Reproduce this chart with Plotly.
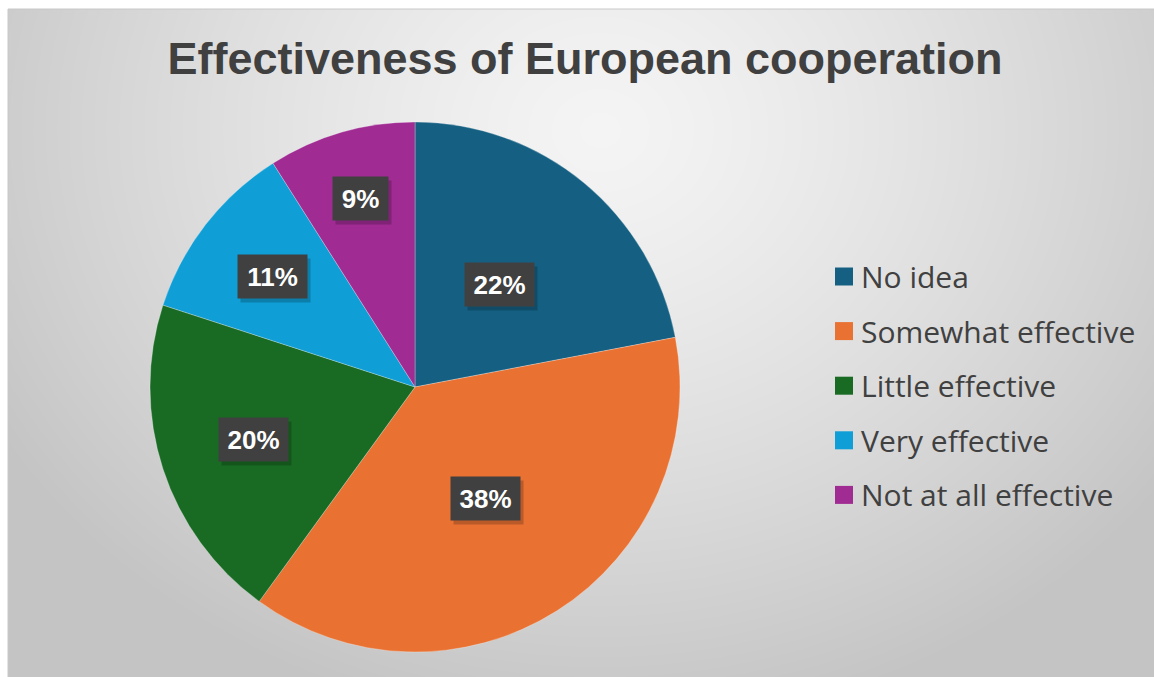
import numpy as np
import plotly.graph_objects as go

# ---------------- data ----------------
labels = ["No idea", "Somewhat effective", "Little effective", "Very effective", "Not at all effective"]
values = [22, 38, 20, 11, 9]
colors = ["#156082", "#E97132", "#196B24", "#0F9ED5", "#A02B93"]
title_text = "Effectiveness of European cooperation"

# ---------------- layout constants (pixels) ----------------
W, H = 1154, 677
CX, CY, R = 415, 387, 265          # pie centre and radius
label_rfrac = [0.50, 0.50, 0.64, 0.68, 0.74]   # radial placement of the data labels


def px(x):
    return x / W


def py(y):
    return 1 - y / H


fig = go.Figure()

# background radial gradient (drawn as a smoothed heatmap behind the pie)
gx = np.linspace(8, W, 120)
gy = np.linspace(9, H, 80)
GX, GY = np.meshgrid(gx, gy)
d = np.sqrt(((GX - 600) / 700) ** 2 + ((GY - 130) / 600) ** 2)
Z = np.clip(1 - d ** 1.3, 0, 1)
fig.add_trace(go.Heatmap(
    x=gx, y=gy, z=Z, zmin=0, zmax=1, zsmooth="best", showscale=False,
    colorscale=[[0, "#c4c4c4"], [1, "#f4f4f4"]], hoverinfo="skip",
    xaxis="x", yaxis="y",
))

# pie
fig.add_trace(go.Pie(
    labels=labels, values=values, sort=False, direction="clockwise", rotation=0,
    marker=dict(colors=colors, line=dict(color="rgba(255,255,255,0.45)", width=0.6)),
    textinfo="none", showlegend=False,
    domain=dict(x=[px(CX - R), px(CX + R)], y=[py(CY + R), py(CY - R)]),
))

annotations = []
shapes = []

# data labels positioned from cumulative shares
total = sum(values)
cum = 0.0
for i, v in enumerate(values):
    frac = v / total
    mid = (cum + frac / 2) * 2 * np.pi
    cum += frac
    r = label_rfrac[i] * R
    lx = CX + r * np.sin(mid)
    ly = CY - r * np.cos(mid)
    pct = f"{round(100 * frac)}%"
    bw = 25 + 14 * len(pct)
    # shadow
    annotations.append(dict(
        x=px(lx + 3), y=py(ly + 4), xref="paper", yref="paper", text=" ",
        xanchor="center", yanchor="middle",
        showarrow=False, width=bw, height=41, bgcolor="rgba(0,0,0,0.2)",
        font=dict(size=24),
    ))
    annotations.append(dict(
        x=px(lx), y=py(ly), xref="paper", yref="paper", text=f"<b>{pct}</b>",
        xanchor="center", yanchor="middle",
        showarrow=False, width=bw, height=41, bgcolor="#404040",
        font=dict(size=26, color="white", family="Liberation Sans, Arial, sans-serif"),
    ))

# chart area border
shapes.append(dict(type="rect", xref="paper", yref="paper",
                   x0=px(8), x1=px(W + 2), y0=py(H + 2), y1=py(9),
                   line=dict(color="#c8c8c8", width=1), fillcolor="rgba(0,0,0,0)", layer="above"))

# manual legend
LX0, LY0, LX1, LY1 = 820, 250, 1145, 523
shapes.append(dict(type="rect", xref="paper", yref="paper",
                   x0=px(LX0), x1=px(LX1), y0=py(LY1), y1=py(LY0),
                   line=dict(width=0), fillcolor="rgba(245,245,245,0.7)", layer="below"))
step = 54.6
for i, (lab, col) in enumerate(zip(labels, colors)):
    cy = 276.5 + i * step
    shapes.append(dict(type="rect", xref="paper", yref="paper",
                       x0=px(835), x1=px(853), y0=py(cy + 9), y1=py(cy - 9),
                       line=dict(width=0), fillcolor=col, layer="above"))
    annotations.append(dict(
        x=px(859), y=py(cy), xref="paper", yref="paper", text=lab,
        xanchor="left", yanchor="middle", showarrow=False,
        font=dict(size=30, color="#404040", family="Open Sans, Noto Sans, sans-serif"),
    ))

fig.update_layout(
    width=W, height=H,
    margin=dict(l=0, r=0, t=0, b=0),
    paper_bgcolor="white", plot_bgcolor="rgba(0,0,0,0)",
    title=dict(text=f"<b>{title_text}</b>", x=px(585), xanchor="center",
               y=py(58), yanchor="middle",
               font=dict(size=45, color="#404040", family="Liberation Sans, Arial, sans-serif")),
    xaxis=dict(domain=[px(8), 1], range=[8, W], visible=False, fixedrange=True),
    yaxis=dict(domain=[0, py(9)], range=[H, 9], visible=False, fixedrange=True),
    annotations=annotations,
    shapes=shapes,
    showlegend=False,
)

fig.write_html("out.html")
